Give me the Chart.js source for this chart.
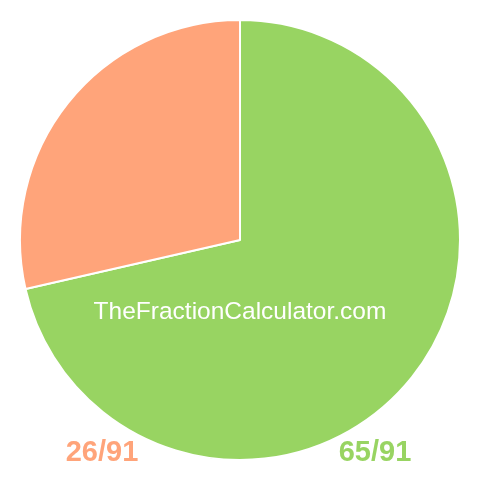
<!DOCTYPE html>
<html>
  <head>
    <script src="https://cdn.jsdelivr.net/npm/chart.js@4.4.1/dist/chart.umd.min.js"></script>
    <style>
      html, body { margin: 0; padding: 0; background: #fff; }
      #wrap { width: 480px; height: 480px; }
    </style>
  </head>

  <body>
    <div id="wrap">
      <canvas id="canvas"></canvas>
    </div>
    <script>
      const labels = ['65/91', '26/91'];
      const values = [65, 26];
      const colors = ['#98d462', '#ffa47a'];
      const watermark = 'TheFractionCalculator.com';

      const textPlugin = {
        id: 'fractionText',
        afterDraw(chart) {
          const ctx = chart.ctx;
          ctx.save();
          ctx.textAlign = 'center';
          ctx.textBaseline = 'alphabetic';
          ctx.fillStyle = '#ffffff';
          ctx.font = '24.5px "Liberation Sans", Arial, sans-serif';
          ctx.fillText(watermark, 240, 319);
          ctx.font = 'bold 29px "Liberation Sans", Arial, sans-serif';
          ctx.fillStyle = colors[1];
          ctx.fillText(labels[1], 102, 461);
          ctx.fillStyle = colors[0];
          ctx.fillText(labels[0], 375, 461);
          ctx.restore();
        },
      };

      new Chart(document.getElementById('canvas').getContext('2d'), {
        type: 'pie',
        data: {
          labels: labels,
          datasets: [
            {
              data: values,
              backgroundColor: colors,
              borderColor: '#ffffff',
              borderWidth: 2,
            },
          ],
        },
        options: {
          responsive: true,
          maintainAspectRatio: false,
          animation: false,
          layout: { padding: 19 },
          plugins: {
            legend: { display: false },
            tooltip: { enabled: false },
          },
        },
        plugins: [textPlugin],
      });
    </script>
  </body>
</html>
